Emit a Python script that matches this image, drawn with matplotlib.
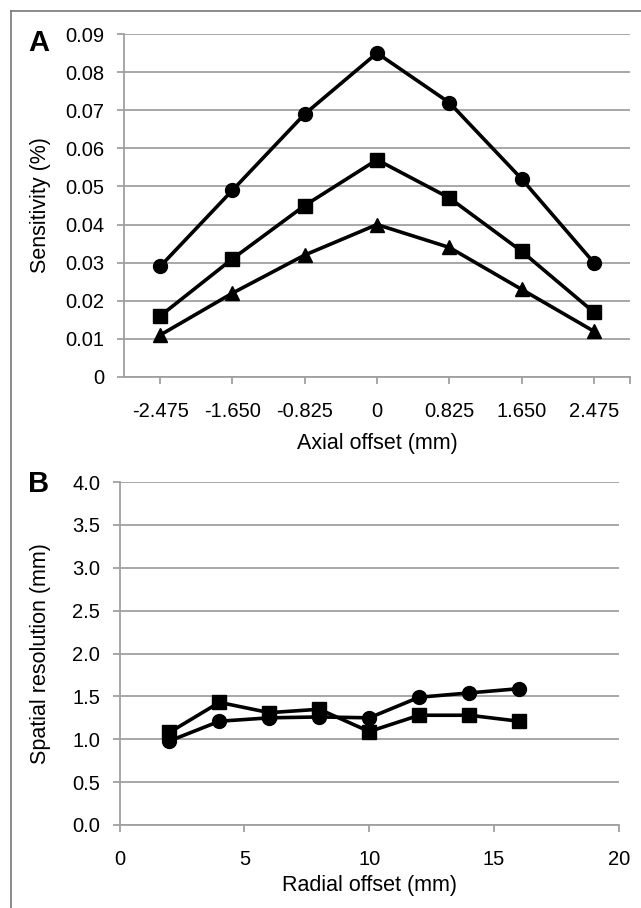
import matplotlib
matplotlib.use("Agg")
import matplotlib.pyplot as plt
from matplotlib.lines import Line2D

plt.rcParams['font.family'] = ['Liberation Sans', 'DejaVu Sans']
plt.rcParams['axes.unicode_minus'] = False

# 图 A：灵敏度 vs 轴向偏移
axial_labels = ['-2.475', '-1.650', '-0.825', '0', '0.825', '1.650', '2.475']
sens_circle = [0.029, 0.049, 0.069, 0.085, 0.072, 0.052, 0.030]
sens_square = [0.016, 0.031, 0.045, 0.057, 0.047, 0.033, 0.017]
sens_triangle = [0.011, 0.022, 0.032, 0.040, 0.034, 0.023, 0.012]

# 图 B：空间分辨率 vs 径向偏移
radial_offset = [2, 4, 6, 8, 10, 12, 14, 16]
res_circle = [0.98, 1.21, 1.25, 1.26, 1.25, 1.49, 1.54, 1.59]
res_square = [1.08, 1.43, 1.31, 1.35, 1.09, 1.28, 1.28, 1.21]

W, H = 641, 908
fig = plt.figure(figsize=(W / 100, H / 100), dpi=100)

grid_c = '#a0a0a0'
tick_fs = 14.5
label_fs = 15.5
lw = 2.6
ms = 10


def style_axes(ax):
    for s in ['top', 'right']:
        ax.spines[s].set_visible(False)
    for s in ['left', 'bottom']:
        ax.spines[s].set_color(grid_c)
        ax.spines[s].set_linewidth(1.3)
    ax.yaxis.grid(True, color=grid_c, linewidth=1.3)
    ax.set_axisbelow(True)
    ax.tick_params(axis='both', colors=grid_c, labelcolor='black',
                   labelsize=tick_fs, length=5, width=1.3)
    ax.tick_params(axis='y', pad=9)
    ax.tick_params(axis='x', pad=13)


# 面板 A
axA = fig.add_axes([124 / W, 1 - 377 / H, 506 / W, 343 / H])
xA = list(range(len(axial_labels)))
axA.plot(xA, sens_circle, '-o', color='black', lw=lw, ms=ms)
axA.plot(xA, sens_square, '-s', color='black', lw=lw, ms=ms)
axA.plot(xA, sens_triangle, '-^', color='black', lw=lw, ms=ms)
axA.set_xlim(-0.5, 6.5)
axA.set_ylim(0, 0.09)
axA.set_yticks([i / 100 for i in range(10)])
axA.set_yticklabels(['0'] + ['0.%02d' % i for i in range(1, 10)])
axA.set_xticks(xA)
axA.set_xticklabels(axial_labels)
axA.set_xticks([6.5], minor=True)
axA.tick_params(axis='x', which='minor', length=5, width=1.3, colors=grid_c)
style_axes(axA)
axA.set_ylabel('Sensitivity (%)', fontsize=label_fs, va='center')
axA.yaxis.set_label_coords(-0.166, 0.5)
axA.set_xlabel('Axial offset (mm)', fontsize=label_fs, va='center')
axA.xaxis.set_label_coords(0.5, -0.195)

# 面板 B
axB = fig.add_axes([119.5 / W, 1 - 825 / H, 499.5 / W, 343 / H])
axB.plot(radial_offset, res_circle, '-o', color='black', lw=lw, ms=ms)
axB.plot(radial_offset, res_square, '-s', color='black', lw=lw, ms=ms)
axB.set_xlim(0, 20)
axB.set_ylim(0, 4.0)
axB.set_xticks([0, 5, 10, 15, 20])
axB.set_yticks([i * 0.5 for i in range(9)])
axB.set_yticklabels(['%.1f' % (i * 0.5) for i in range(9)])
style_axes(axB)
axB.set_ylabel('Spatial resolution (mm)', fontsize=label_fs, va='center')
axB.yaxis.set_label_coords(-0.159, 0.5)
axB.set_xlabel('Radial offset (mm)', fontsize=label_fs, va='center')
axB.xaxis.set_label_coords(0.5, -0.176)

# 面板字母
fig.text(39 / W, 1 - 43 / H, 'A', fontsize=21, fontweight='bold', ha='center', va='center')
fig.text(39 / W, 1 - 484 / H, 'B', fontsize=21, fontweight='bold', ha='center', va='center')

# 外框（左、上）
fig.add_artist(Line2D([11 / W, 11 / W], [0, 1 - 11 / H], color='#777777', lw=1.2))
fig.add_artist(Line2D([11 / W, 1], [1 - 11 / H, 1 - 11 / H], color='#777777', lw=1.2))

fig.savefig('out.png', dpi=100)
